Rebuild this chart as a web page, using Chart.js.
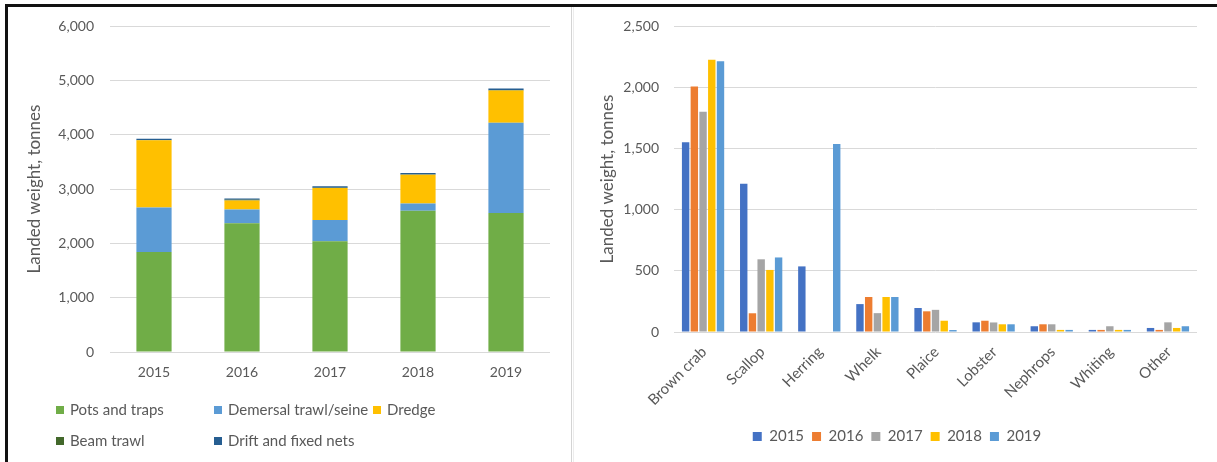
<!DOCTYPE html>
<html>
<head>
<meta charset="utf-8">
<script src="https://cdn.jsdelivr.net/npm/chart.js@4.4.1/dist/chart.umd.min.js"></script>
<style>
  html, body { margin: 0; padding: 0; background: #fff; }
  body { width: 1217px; height: 462px; position: relative; overflow: hidden; font-family: Lato, "Liberation Sans", sans-serif; }
  #frame { position: absolute; left: 5px; top: 4px; width: 1220px; height: 470px; border-top: 3px solid #111; border-left: 3px solid #111; box-sizing: border-box; }
  #sep { position: absolute; left: 571px; top: 7px; width: 1px; height: 455px; background: #d4d4d4; }
  #sep2 { position: absolute; left: 573px; top: 7px; width: 1px; height: 455px; background: #ececec; }
  #leftBox { position: absolute; left: 8px; top: 7px; width: 562px; height: 455px; }
  #rightBox { position: absolute; left: 574px; top: 7px; width: 643px; height: 455px; }
  .lg-item { position: absolute; font-size: 15px; color: #595959; line-height: 18px; white-space: nowrap; transform: translateY(-50%); }
  .lg-item .sw { display: inline-block; width: 8px; height: 8px; margin-right: 6px; vertical-align: 1px; }
</style>
</head>
<body>
<div id="frame"></div>
<div id="sep"></div>
<div id="sep2"></div>
<div id="leftBox"><canvas id="chartLeft" width="562" height="455"></canvas></div>
<div id="rightBox"><canvas id="chartRight" width="643" height="455"></canvas></div>
<div id="leftLegend"></div>
<script>
// left chart: landings by gear type (stacked)
const years = ['2015', '2016', '2017', '2018', '2019'];
const gearNames = ['Pots and traps', 'Demersal trawl/seine', 'Dredge', 'Beam trawl', 'Drift and fixed nets'];
const potsTraps = [1840, 2370, 2040, 2600, 2560];
const demersalTrawl = [820, 255, 390, 135, 1660];
const dredge = [1235, 165, 590, 525, 595];
const beamTrawl = [5, 10, 5, 5, 5];
const driftNets = [25, 25, 25, 30, 30];
const gearColors = ['#70AD47', '#5B9BD5', '#FFC000', '#43682B', '#265E91'];

// right chart: landings by species and year
const species = ['Brown crab', 'Scallop', 'Herring', 'Whelk', 'Plaice', 'Lobster', 'Nephrops', 'Whiting', 'Other'];
const land2015 = [1550, 1212, 536, 228, 196, 79, 47, 17, 33];
const land2016 = [2005, 153, 0, 286, 169, 92, 63, 17, 17];
const land2017 = [1800, 594, 0, 154, 181, 78, 63, 47, 79];
const land2018 = [2225, 507, 0, 286, 92, 63, 17, 17, 33];
const land2019 = [2212, 609, 1536, 286, 16, 63, 17, 17, 47];
const yearColors = ['#4472C4', '#ED7D31', '#A5A5A5', '#FFC000', '#5B9BD5'];

const leftMax = 6000, leftStep = 1000;
const rightMax = 2500, rightStep = 500;
const yTitle = 'Landed weight, tonnes';

Chart.defaults.font.family = 'Lato, "Liberation Sans", sans-serif';
Chart.defaults.color = '#595959';
Chart.defaults.animation = false;

const gearSeries = [potsTraps, demersalTrawl, dredge, beamTrawl, driftNets];
const yearSeries = [land2015, land2016, land2017, land2018, land2019];

// fixed axis width; drop the extra label overhang so layout padding sets the plot top
function fixYAxis(width) {
    return s => {
        s.width = width;
        s.paddingTop = 0;
        s.paddingBottom = 0;
    };
}

const chartLeft = new Chart(document.getElementById('chartLeft'), {
    type: 'bar',
    data: {
        labels: years,
        datasets: gearSeries.map((vals, i) => ({
            label: gearNames[i],
            data: vals,
            backgroundColor: gearColors[i],
            borderWidth: 0,
            barPercentage: 0.4,
            categoryPercentage: 1
        }))
    },
    options: {
        responsive: false,
        layout: { padding: { left: 16, top: 19, right: 20, bottom: 70 } },
        plugins: { legend: { display: false }, tooltip: { enabled: false } },
        scales: {
            x: {
                stacked: true,
                grid: { display: false, drawTicks: false },
                border: { display: false },
                ticks: { font: { size: 14 }, padding: 12 },
                afterFit: s => { s.height = 40; }
            },
            y: {
                stacked: true,
                min: 0,
                max: leftMax,
                ticks: { stepSize: leftStep, font: { size: 14 }, padding: 16 },
                grid: { color: '#D9D9D9', lineWidth: 1, drawTicks: false },
                border: { display: false },
                title: { display: true, text: yTitle, font: { size: 17 }, padding: 0 },
                afterFit: fixYAxis(86)
            }
        }
    }
});

const chartRight = new Chart(document.getElementById('chartRight'), {
    type: 'bar',
    data: {
        labels: species,
        datasets: yearSeries.map((vals, i) => ({
            label: years[i],
            data: vals,
            backgroundColor: yearColors[i],
            borderWidth: 0,
            categoryPercentage: 0.75,
            barPercentage: 0.85
        }))
    },
    options: {
        responsive: false,
        layout: { padding: { left: 23, top: 19, right: 20, bottom: 8 } },
        plugins: {
            legend: {
                position: 'bottom',
                labels: { boxWidth: 9, boxHeight: 9, font: { size: 15 }, padding: 8, color: '#595959' }
            },
            tooltip: { enabled: false }
        },
        scales: {
            x: {
                grid: { display: false, drawTicks: false },
                border: { display: false },
                ticks: { minRotation: 45, maxRotation: 45, font: { size: 15 }, padding: 11, labelOffset: 1 },
                afterFit: s => { s.height = 89; }
            },
            y: {
                min: 0,
                max: rightMax,
                ticks: { stepSize: rightStep, font: { size: 14 }, padding: 15 },
                grid: { color: '#D9D9D9', lineWidth: 1, drawTicks: false },
                border: { display: false },
                title: { display: true, text: yTitle, font: { size: 17 }, padding: 0 },
                afterFit: fixYAxis(77)
            }
        }
    }
});

// left legend laid out as a grid, like the original
const legendSpots = [[56, 409], [214, 409], [373, 409], [56, 440], [214, 440]];
const legendBox = document.getElementById('leftLegend');
chartLeft.data.datasets.forEach((ds, i) => {
    const item = document.createElement('div');
    item.className = 'lg-item';
    item.style.left = legendSpots[i][0] + 'px';
    item.style.top = legendSpots[i][1] + 'px';
    item.innerHTML = `<span class="sw" style="background:${ds.backgroundColor}"></span>${ds.label}`;
    legendBox.appendChild(item);
});
</script>
</body>
</html>
